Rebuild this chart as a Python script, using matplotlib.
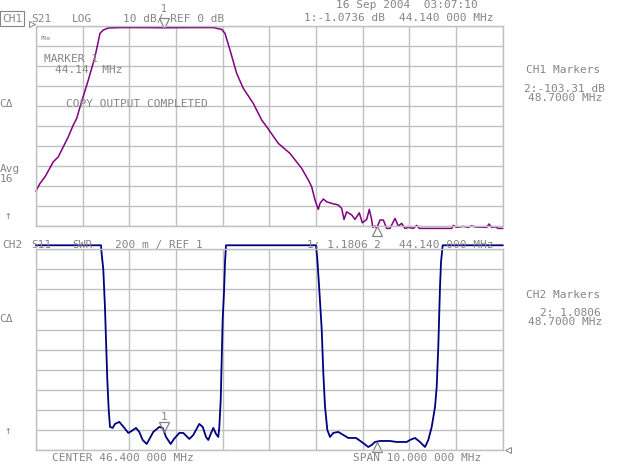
import matplotlib.pyplot as plt
from matplotlib.transforms import offset_copy
import numpy as np

# Barrido: centro 46.4 MHz, span 10 MHz
f_start = 41.4
f_stop = 51.4

# CH1: S21 LOG (dB)
s21_freq = [41.400, 41.486, 41.593, 41.771, 41.878, 41.985, 42.092, 42.199, 42.272, 42.343,
            42.521, 42.664, 42.771, 42.842, 42.949, 43.200, 43.700, 44.143, 44.700, 45.199,
            45.379, 45.450, 45.557, 45.700, 45.842, 46.056, 46.236, 46.343, 46.592, 46.842,
            47.093, 47.235, 47.307, 47.378, 47.449, 47.485, 47.556, 47.629, 47.736, 47.877,
            47.950, 48.000, 48.057, 48.165, 48.235, 48.327, 48.392, 48.486, 48.542, 48.593,
            48.615, 48.664, 48.700, 48.771, 48.842, 48.915, 48.985, 49.092, 49.163, 49.236,
            49.307, 49.377, 49.484, 49.557, 49.613, 49.842, 50.307, 50.341, 50.414, 50.556,
            50.663, 50.736, 50.807, 51.057, 51.107, 51.164, 51.235, 51.306, 51.400]
s21_db = [-82.5, -78.7, -75.4, -67.9, -65.4, -60.4, -55.4, -49.5, -46.2, -40.5,
          -27.0, -15.4, -3.7, -2.0, -1.0, -0.8, -0.8, -0.9, -0.8, -0.8,
          -1.7, -3.7, -12.0, -23.7, -31.2, -38.7, -47.0, -50.4, -58.7, -63.7,
          -71.2, -77.0, -80.4, -87.0, -91.7, -88.7, -86.5, -87.9, -88.7, -89.5,
          -91.2, -96.7, -92.9, -94.5, -96.7, -93.4, -98.4, -96.7, -91.7, -97.0,
          -100.7, -100.0, -101.2, -97.0, -97.0, -101.2, -101.2, -96.2, -100.0, -98.7,
          -101.2, -100.7, -101.2, -99.7, -101.2, -101.2, -101.2, -99.7, -100.7, -100.2,
          -100.7, -99.9, -100.5, -100.7, -99.0, -100.7, -100.4, -101.2, -101.2]

# CH2: S11 SWR
swr_freq = [41.400, 42.793, 42.808, 42.842, 42.878, 42.900, 42.928, 42.958, 42.986, 43.043,
            43.093, 43.185, 43.258, 43.378, 43.451, 43.543, 43.613, 43.686, 43.772, 43.843,
            43.913, 44.042, 44.115, 44.186, 44.286, 44.357, 44.471, 44.556, 44.685, 44.771,
            44.899, 44.972, 45.043, 45.092, 45.143, 45.199, 45.257, 45.306, 45.328, 45.358,
            45.379, 45.400, 45.428, 45.450, 45.471, 47.400, 47.428, 47.470, 47.522, 47.556,
            47.593, 47.642, 47.700, 47.770, 47.877, 47.985, 48.092, 48.257, 48.379, 48.520,
            48.593, 48.664, 48.771, 48.985, 49.129, 49.343, 49.414, 49.521, 49.628, 49.735,
            49.806, 49.879, 49.950, 49.986, 50.020, 50.057, 50.078, 50.114, 51.400]
swr_val = [3.04, 3.04, 2.95, 2.80, 2.42, 2.10, 1.70, 1.40, 1.23, 1.22,
           1.26, 1.28, 1.24, 1.17, 1.19, 1.22, 1.18, 1.10, 1.06, 1.12,
           1.18, 1.23, 1.22, 1.13, 1.06, 1.11, 1.17, 1.17, 1.11, 1.15,
           1.26, 1.23, 1.13, 1.10, 1.16, 1.22, 1.16, 1.13, 1.23, 1.50,
           1.90, 2.30, 2.57, 2.87, 3.04, 3.04, 2.90, 2.60, 2.20, 1.77,
           1.43, 1.20, 1.13, 1.17, 1.18, 1.15, 1.12, 1.12, 1.08, 1.03,
           1.05, 1.08, 1.09, 1.09, 1.08, 1.08, 1.10, 1.12, 1.08, 1.03,
           1.10, 1.23, 1.43, 1.63, 2.03, 2.63, 2.87, 3.04, 3.04]

# marcadores
marker_freq = [44.14, 48.70]
s21_marker_db = [-1.0736, -103.31]
swr_marker = [1.1806, 1.0806]

W, H = 640, 465
GRIS = '#858585'
REJILLA = '#c0c0c0'
MONO = 'DejaVu Sans Mono'
FS = 8

fig = plt.figure(figsize=(W / 100, H / 100), dpi=100)
fig.patch.set_facecolor('white')


def txt(x, y, s, size=FS, ha='center', **kw):
    fig.text(x / W, 1 - y / H, s, color=GRIS, family=MONO, fontsize=size,
             ha=ha, va='center', **kw)


def rejilla(ax, y0, y1):
    ax.set_xlim(f_start, f_stop)
    ax.set_ylim(y0, y1)
    ax.set_xticks(np.linspace(f_start, f_stop, 11))
    ax.set_yticks(np.linspace(y0, y1, 11))
    ax.tick_params(length=0, labelbottom=False, labelleft=False)
    ax.grid(True, color=REJILLA, linewidth=1.0)
    for sp in ax.spines.values():
        sp.set_color(REJILLA)
        sp.set_linewidth(1.0)
    ax.set_axisbelow(True)


ax1 = fig.add_axes([36 / W, 1 - 226 / H, 466.7 / W, 200 / H])
rejilla(ax1, -100, 0)
ax1.plot(s21_freq, s21_db, color='#800080', linewidth=1.1, clip_on=False)

ax2 = fig.add_axes([36 / W, 1 - 450 / H, 466.7 / W, 200.7 / H])
rejilla(ax2, 1, 3)
ax2.plot(swr_freq, swr_val, color='#000080', linewidth=1.3, clip_on=False)

# triangulos de marcador (punta sobre la traza)
ms = 7
up1 = offset_copy(ax1.transData, fig=fig, x=0, y=5, units='dots')
ax1.plot(marker_freq[0], s21_marker_db[0], marker='v', ms=ms, mfc='white', mec=GRIS,
         mew=0.9, transform=up1, clip_on=False)
ax1.annotate('1', (marker_freq[0], s21_marker_db[0]), xytext=(0, 19), textcoords='offset pixels',
             ha='center', va='center', color=GRIS, family=MONO, fontsize=7, annotation_clip=False)
dn1 = offset_copy(ax1.transData, fig=fig, x=0, y=-5, units='dots')
ax1.plot(marker_freq[1], max(s21_marker_db[1], -100), marker='^', ms=ms, mfc='white', mec=GRIS,
         mew=0.9, transform=dn1, clip_on=False)
ax1.annotate('2', (marker_freq[1], -100), xytext=(0, -19), textcoords='offset pixels',
             ha='center', va='center', color=GRIS, family=MONO, fontsize=FS, annotation_clip=False)

up2 = offset_copy(ax2.transData, fig=fig, x=0, y=5, units='dots')
ax2.plot(marker_freq[0], swr_marker[0], marker='v', ms=ms, mfc='none', mec=GRIS,
         mew=0.9, transform=up2, clip_on=False)
ax2.annotate('1', (marker_freq[0], swr_marker[0]), xytext=(0, 15), textcoords='offset pixels',
             ha='center', va='center', color=GRIS, family=MONO, fontsize=FS, annotation_clip=False)
dn2 = offset_copy(ax2.transData, fig=fig, x=0, y=-5, units='dots')
ax2.plot(marker_freq[1], swr_marker[1], marker='^', ms=ms, mfc='white', mec=GRIS,
         mew=0.9, transform=dn2, clip_on=False)

# referencias
ref1 = offset_copy(ax1.transData, fig=fig, x=-4, y=2, units='dots')
ax1.plot(f_start, 0, marker='>', ms=4, mfc='white', mec=GRIS, mew=0.7, transform=ref1, clip_on=False)
ref2 = offset_copy(ax2.transData, fig=fig, x=5, y=0, units='dots')
ax2.plot(f_stop, 1, marker='<', ms=4, mfc='white', mec=GRIS, mew=0.7, transform=ref2, clip_on=False)

# textos de pantalla
txt(407, 5, '16 Sep 2004  03:07:10')
txt(12, 18.5, 'CH1', bbox=dict(boxstyle='square,pad=0.2', fc='none', ec=GRIS, lw=0.8))
txt(41.5, 19, 'S21')
txt(82, 19, 'LOG')
txt(173.5, 19, '10 dB/ REF 0 dB')
txt(344, 18, '1:-1.0736 dB')
txt(446.5, 18, '44.140 000 MHz')
txt(45, 38, 'PRm', size=4)
txt(71.5, 59, 'MARKER 1')
txt(89, 70, '44.14  MHz')
txt(6.5, 104, 'CΔ')
txt(136.5, 104, 'COPY OUTPUT COMPLETED')
txt(9.5, 169, 'Avg')
txt(6, 179, '16')
txt(8, 216, '↑')

txt(12.5, 245, 'CH2')
txt(41.5, 245, 'S11')
txt(82, 245, 'SWR')
txt(158.5, 245, '200 m / REF 1')
txt(337, 245, '1: 1.1806')
txt(446.5, 245, '44.140 000 MHz')
txt(6.5, 319, 'CΔ')
txt(8, 431, '↑')
txt(123, 458, 'CENTER 46.400 000 MHz')
txt(417.5, 458, 'SPAN 10.000 000 MHz')

txt(563.5, 70, 'CH1 Markers')
txt(564, 89, '2:-103.31 dB')
txt(565, 98, '48.7000 MHz')
txt(563.5, 295, 'CH2 Markers')
txt(570, 313, '2: 1.0806')
txt(565, 322, '48.7000 MHz')

fig.savefig('out.png', dpi=100)
